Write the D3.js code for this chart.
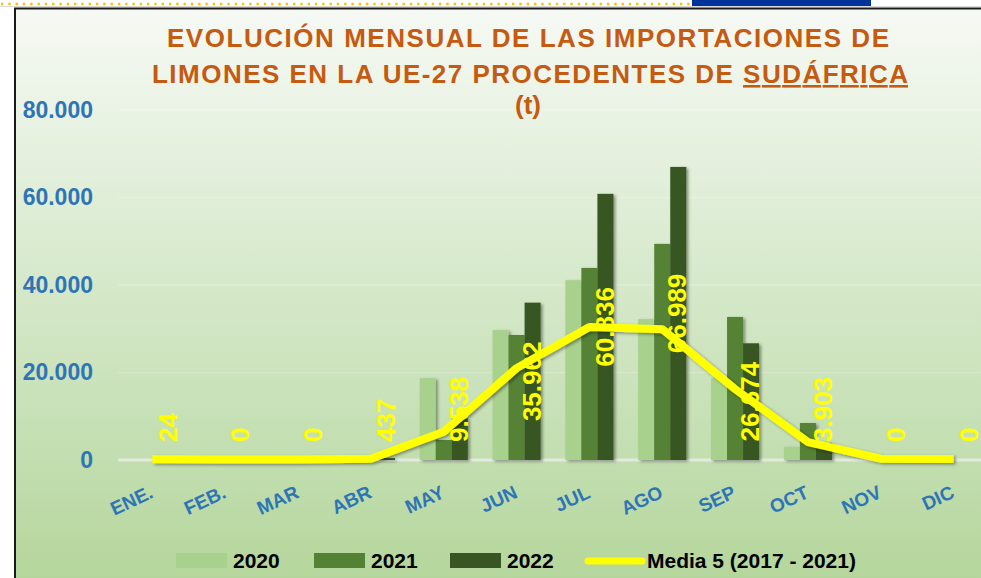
<!DOCTYPE html>
<html>
<head>
<meta charset="utf-8">
<script src="https://cdn.jsdelivr.net/npm/d3@7"></script>
<style>
  html, body { margin: 0; padding: 0; background: #ffffff; }
  svg { display: block; }
</style>
</head>
<body>
<svg id="chart" width="981" height="578"></svg>
<script>
// ---- data ----
const months = ["ENE.", "FEB.", "MAR", "ABR", "MAY", "JUN", "JUL", "AGO", "SEP", "OCT", "NOV", "DIC"];
const years = ["2020", "2021", "2022"];
const values2020 = [0, 0, 0, 150, 18700, 29700, 41100, 32200, 18700, 2970, 0, 0];
const values2021 = [0, 0, 0, 200, 4570, 28570, 43900, 49400, 32700, 8460, 0, 0];
const values2022 = [24, 0, 0, 437, 9538, 35962, 60836, 66989, 26674, 3903, 0, 0];
const media5 = [150, 100, 100, 300, 6450, 21000, 30400, 29900, 16200, 4100, 300, 250];
const yTicks = [0, 20000, 40000, 60000, 80000];
const mediaLabel = "Media 5 (2017 - 2021)";
const titleLine1 = "EVOLUCIÓN MENSUAL DE LAS IMPORTACIONES DE";
const titleLine2a = "LIMONES EN LA UE-27 PROCEDENTES DE ";
const titleLine2b = "SUDÁFRICA";
const titleLine3 = "(t)";

const seriesValues = [values2020, values2021, values2022];
const colors = ["#a9d18e", "#548235", "#375623"];
const lineColor = "#ffff00";

// ---- setup ----
const svg = d3.select("#chart");
const defs = svg.append("defs");
const grad = defs.append("linearGradient").attr("id", "bg").attr("x1", 0).attr("y1", 0).attr("x2", 0).attr("y2", 1);
grad.append("stop").attr("offset", "0%").attr("stop-color", "#f6f9f4");
grad.append("stop").attr("offset", "45%").attr("stop-color", "#d6e9cb");
grad.append("stop").attr("offset", "80%").attr("stop-color", "#bfdcab");
grad.append("stop").attr("offset", "100%").attr("stop-color", "#b1d496");

const sh = defs.append("filter").attr("id", "shadow").attr("x", "-30%").attr("y", "-10%").attr("width", "160%").attr("height", "130%");
sh.append("feDropShadow").attr("dx", 2).attr("dy", 1.5).attr("stdDeviation", 1.4)
  .attr("flood-color", "#000").attr("flood-opacity", 0.4);

// top decorations
svg.append("line").attr("x1", 1).attr("x2", 690).attr("y1", 4).attr("y2", 4)
  .attr("stroke", "#ffc000").attr("stroke-width", 2.5).attr("stroke-dasharray", "2.4,4.9");
svg.append("rect").attr("x", 692).attr("y", 0).attr("width", 179).attr("height", 6).attr("fill", "#003399");
svg.append("line").attr("x1", 0).attr("x2", 981).attr("y1", 6.5).attr("y2", 6.5)
  .attr("stroke", "#d9d9d9").attr("stroke-width", 1);

// chart area
svg.append("rect").attr("x", 15).attr("y", 8.5).attr("width", 1000).attr("height", 600)
  .attr("fill", "url(#bg)").attr("stroke", "#1a1a1a").attr("stroke-width", 2);

// ---- scales ----
const x = d3.scaleBand().domain(months).range([116, 990]).padding(0);
const bw = x.bandwidth();
const groupPad = bw * 0.17;
const x1 = d3.scaleBand().domain(years).range([groupPad, bw - groupPad]).padding(0);
const y = d3.scaleLinear().domain([0, 80000]).range([460, 110]);

const fmtLocale = d3.formatLocale({ decimal: ",", thousands: ".", grouping: [3], currency: ["", "€"] });
const fmt = fmtLocale.format(",d");

// gridlines
svg.append("g").selectAll("line").data(yTicks.filter(d => d > 0)).join("line")
  .attr("x1", 118).attr("x2", 981)
  .attr("y1", d => y(d)).attr("y2", d => y(d))
  .attr("stroke", "#ffffff").attr("stroke-opacity", 0.2).attr("stroke-width", 1.5);

// baseline
svg.append("line").attr("x1", 118).attr("x2", 981).attr("y1", y(0)).attr("y2", y(0))
  .attr("stroke", "#e3eadd").attr("stroke-width", 3);

// ---- y axis ----
const yAxis = svg.append("g").attr("transform", "translate(96,0)")
  .call(d3.axisLeft(y).tickValues(yTicks).tickFormat(fmt).tickSize(0).tickPadding(3));
yAxis.select(".domain").remove();
yAxis.selectAll("text")
  .attr("fill", "#2e75b6").attr("font-family", "'Liberation Sans', Arial, sans-serif")
  .attr("font-weight", "bold").attr("font-size", 23);

// ---- x axis ----
const xAxis = svg.append("g").attr("transform", `translate(0,${y(0)})`)
  .call(d3.axisBottom(x).tickSize(0).tickPadding(0));
xAxis.select(".domain").remove();
xAxis.selectAll("text")
  .attr("fill", "#2e75b6").attr("font-family", "'Liberation Sans', Arial, sans-serif")
  .attr("font-weight", "bold").attr("font-size", 19)
  .attr("text-anchor", "end").attr("x", 0).attr("y", 0).attr("dy", 0)
  .attr("transform", "translate(2,37) rotate(-25)");

// ---- bars ----
const bars = svg.append("g").attr("filter", "url(#shadow)");
months.forEach((m, i) => {
  years.forEach((yr, s) => {
    const v = seriesValues[s][i];
    bars.append("rect")
      .attr("x", x(m) + x1(yr))
      .attr("y", y(v))
      .attr("width", x1.bandwidth())
      .attr("height", y(0) - y(v))
      .attr("fill", colors[s]);
  });
});

// ---- media line ----
const line = d3.line().x((d, i) => x(months[i]) + bw / 2).y(d => y(d));
svg.append("path").datum(media5)
  .attr("d", line)
  .attr("fill", "none").attr("stroke", lineColor).attr("stroke-width", 8)
  .attr("stroke-linejoin", "round").attr("stroke-linecap", "butt")
  .attr("filter", "url(#shadow)");

// ---- data labels (2022) ----
const labels = svg.append("g");
values2022.forEach((v, i) => {
  const cx = x(months[i]) + x1("2022") + x1.bandwidth() / 2 - 1;
  const t = labels.append("text")
    .attr("font-family", "'Liberation Sans', Arial, sans-serif")
    .attr("font-size", 26).attr("font-weight", "bold").attr("fill", lineColor)
    .attr("text-anchor", "middle").attr("dy", "0.35em")
    .text(fmt(v));
  const len = t.node().getComputedTextLength();
  const barMid = (y(v) + y(0)) / 2;
  const cy = Math.min(barMid, y(0) - 18 - len / 2);
  t.attr("transform", `translate(${cx},${cy}) rotate(-90)`);
});

// ---- title ----
const title = svg.append("g")
  .attr("font-family", "'Liberation Sans', Arial, sans-serif")
  .attr("font-weight", "bold").attr("font-size", 26).attr("fill", "#c55a11")
  .attr("text-anchor", "middle");
title.append("text").attr("x", 528).attr("y", 47)
  .attr("textLength", 722).attr("lengthAdjust", "spacing").text(titleLine1);
const t2 = title.append("text").attr("x", 530).attr("y", 83)
  .attr("textLength", 756).attr("lengthAdjust", "spacing");
t2.append("tspan").text(titleLine2a);
t2.append("tspan").style("text-decoration", "underline").text(titleLine2b);
title.append("text").attr("x", 528).attr("y", 114).text(titleLine3);

// ---- legend ----
const legend = svg.append("g")
  .attr("font-family", "'Liberation Sans', Arial, sans-serif")
  .attr("font-weight", "bold").attr("font-size", 21).attr("fill", "#000");
const legendX = [176, 314, 450];
years.forEach((yr, s) => {
  legend.append("rect").attr("x", legendX[s]).attr("y", 553).attr("width", 51).attr("height", 15).attr("fill", colors[s]);
  legend.append("text").attr("x", legendX[s] + 57).attr("y", 568).text(yr);
});
legend.append("line").attr("x1", 588).attr("x2", 642).attr("y1", 561).attr("y2", 561)
  .attr("stroke", lineColor).attr("stroke-width", 7).attr("stroke-linecap", "round");
legend.append("text").attr("x", 647).attr("y", 568).text(mediaLabel);
</script>
</body>
</html>
